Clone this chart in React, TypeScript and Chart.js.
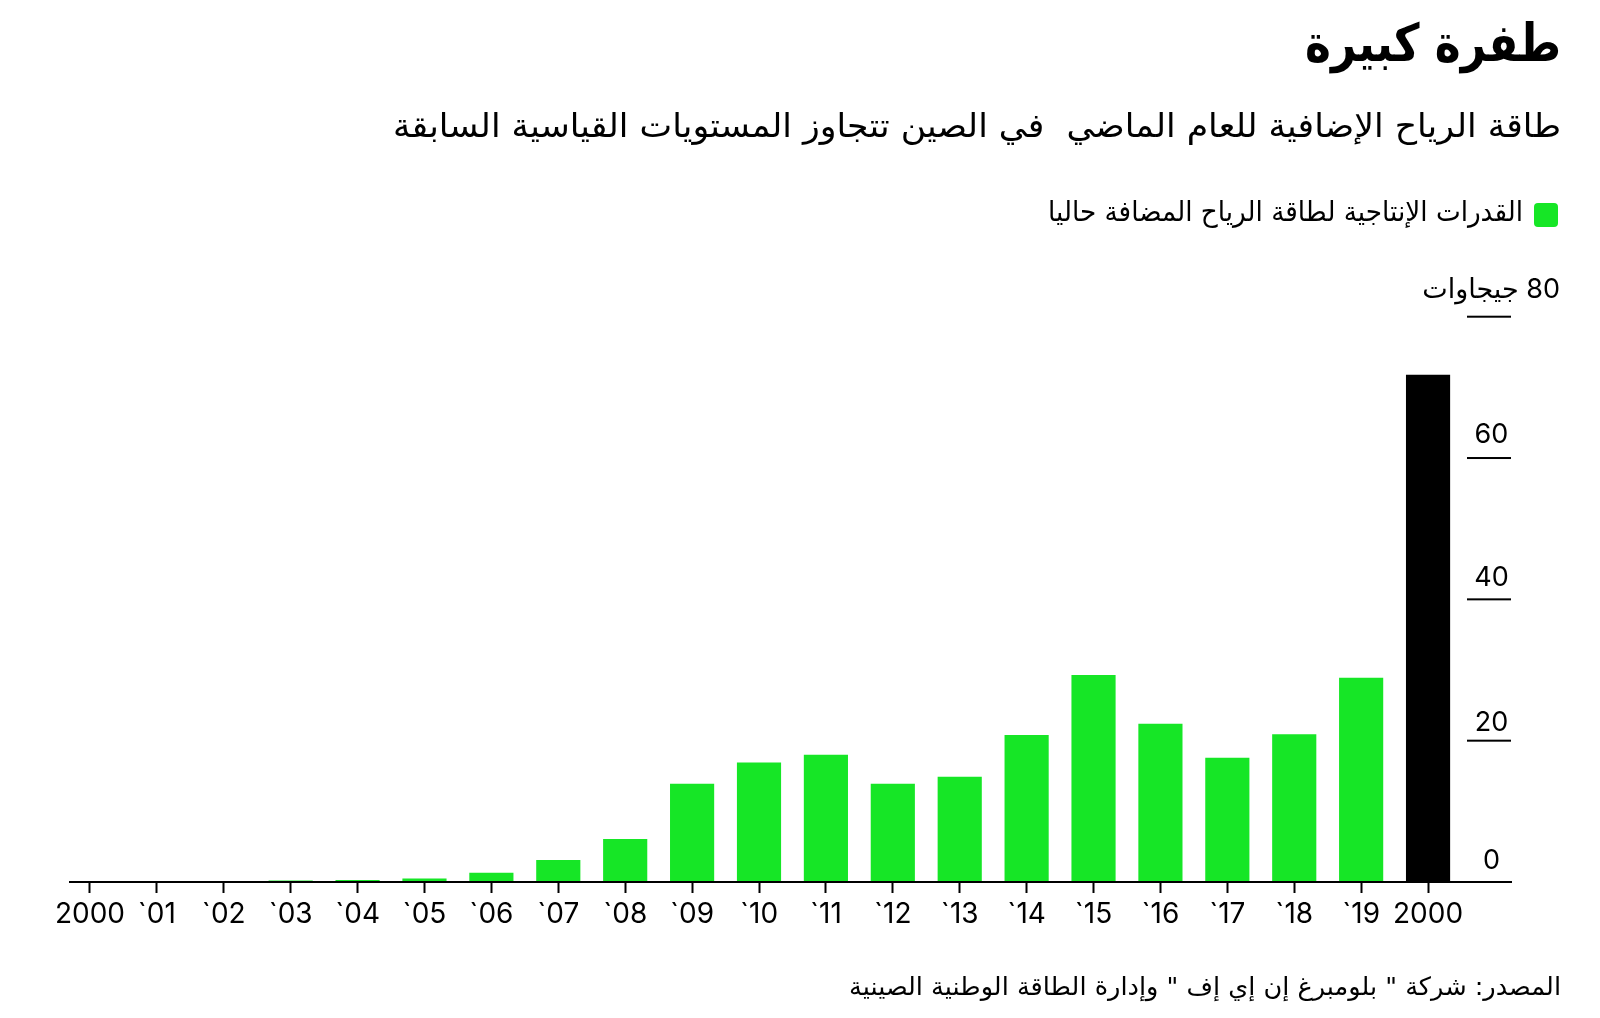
import React, { useEffect, useRef } from "react";
import { Chart, registerables } from "chart.js";

Chart.register(...registerables);

const years = ["2000", "`01", "`02", "`03", "`04", "`05", "`06", "`07", "`08", "`09", "`10", "`11", "`12", "`13", "`14", "`15", "`16", "`17", "`18", "`19", "2000"];
const additions = [0, 0.1, 0.1, 0.2, 0.3, 0.5, 1.3, 3.1, 6.1, 13.9, 16.9, 18.0, 13.9, 14.9, 20.8, 29.3, 22.4, 17.6, 20.9, 28.9, 71.8];
const yTicks = [0, 20, 40, 60, 80];
const unitLabel = "جيجاوات";
const titleText = "طفرة كبيرة";
const subtitleText = "طاقة الرياح الإضافية للعام الماضي  في الصين تتجاوز المستويات القياسية السابقة";
const legendText = "القدرات الإنتاجية لطاقة الرياح المضافة حاليا";
const sourceText = 'المصدر: شركة " بلومبرغ إن إي إف " وإدارة الطاقة الوطنية الصينية';

const GREEN = "#16e626";
const BLACK = "#000000";
const AR_FONT = "'DejaVu Sans', sans-serif";
const NUM_FONT = "Inter, 'DejaVu Sans', sans-serif";

function fitText(ctx: CanvasRenderingContext2D, text: string, xRight: number, y: number, targetW: number) {
  const w = ctx.measureText(text).width;
  const s = Math.max(0.5, Math.min(1.4, targetW / w));
  ctx.save();
  ctx.translate(xRight, y);
  ctx.scale(s, 1);
  ctx.fillText(text, 0, 0);
  ctx.restore();
}

const labelOffsets: Record<number, number> = { 0: 13, 20: 10, 40: 13, 60: 15, 80: 19 };

const decorPlugin = {
  id: "decor",
  afterDatasetsDraw(chart: any) {
    const { ctx, chartArea, scales } = chart;
    const y = scales.y;
    ctx.save();
    ctx.fillStyle = "#000";
    const y0 = y.getPixelForValue(0);
    ctx.fillRect(chartArea.left + 12.5, y0 - 1, chartArea.right + 50.5 - (chartArea.left + 12.5), 2);
    yTicks.forEach((v) => {
      const py = y.getPixelForValue(v);
      if (v !== 0) ctx.fillRect(chartArea.right + 5.5, py - 1, 44, 2);
      ctx.font = `27px ${NUM_FONT}`;
      ctx.textBaseline = "alphabetic";
      if (v === 80) {
        ctx.direction = "rtl";
        ctx.textAlign = "right";
        ctx.fillText(`${v} ${unitLabel}`, chartArea.right + 98.5, py - labelOffsets[v]);
      } else {
        ctx.direction = "ltr";
        ctx.textAlign = "center";
        ctx.fillText(String(v), chartArea.right + 30, py - labelOffsets[v]);
      }
    });
    ctx.restore();
  },
  afterDraw(chart: any) {
    const { ctx } = chart;
    const W = chart.width;
    const xr = W - 39;
    ctx.save();
    ctx.fillStyle = "#000";
    ctx.direction = "rtl";
    ctx.textAlign = "right";
    ctx.textBaseline = "middle";
    ctx.font = `bold 52px ${AR_FONT}`;
    fitText(ctx, titleText, xr, 47, 256);
    ctx.font = `33px ${AR_FONT}`;
    fitText(ctx, subtitleText, xr, 128, 1168);
    ctx.fillStyle = GREEN;
    ctx.beginPath();
    (ctx as any).roundRect(W - 66, 203, 24, 24, 4);
    ctx.fill();
    ctx.fillStyle = "#000";
    ctx.font = `28px ${AR_FONT}`;
    fitText(ctx, legendText, W - 77, 214, 475);
    ctx.font = `25px ${AR_FONT}`;
    fitText(ctx, sourceText, xr, 988, 712);
    ctx.restore();
  },
};

export default function App() {
  const ref = useRef<HTMLCanvasElement | null>(null);
  useEffect(() => {
    if (!ref.current) return;
    const chart = new Chart(ref.current, {
      type: "bar",
      data: {
        labels: years,
        datasets: [
          {
            label: legendText,
            data: additions,
            backgroundColor: additions.map((_, i) => (i === additions.length - 1 ? BLACK : GREEN)),
            borderWidth: 0,
            barPercentage: 0.66,
            categoryPercentage: 1,
          },
        ],
      },
      options: {
        responsive: false,
        animation: false,
        layout: { padding: { left: 56.5, right: 138.5, top: 316.7, bottom: 76 } },
        plugins: { legend: { display: false }, tooltip: { enabled: false } },
        scales: {
          x: {
            offset: true,
            grid: {
              display: true,
              offset: false,
              drawOnChartArea: false,
              drawTicks: true,
              tickLength: 11,
              tickWidth: 2,
              tickColor: "#000",
            },
            border: { display: false },
            ticks: {
              color: "#000",
              font: { family: "Inter", size: 28 },
              padding: 5,
              maxRotation: 0,
              autoSkip: false,
            },
            afterFit: (s: any) => {
              s.height = 60;
            },
          },
          y: { display: false, min: 0, max: 80 },
        },
      },
      plugins: [decorPlugin],
    });
    return () => chart.destroy();
  }, []);
  return (
    <div style={{ position: "absolute", left: 0, top: 0, width: 1600, height: 1018, background: "#fff" }}>
      <canvas ref={ref} width={1600} height={1018} style={{ display: "block" }} />
    </div>
  );
}
